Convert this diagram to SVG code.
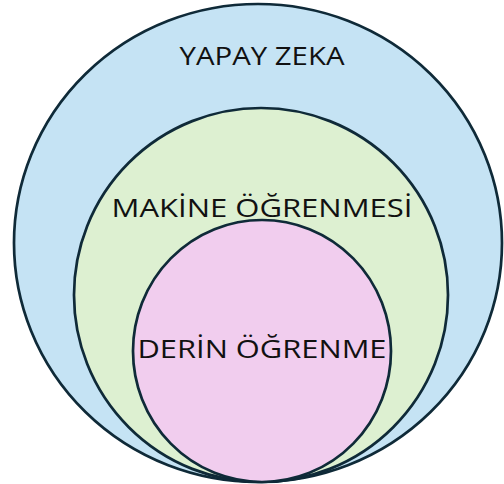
<svg xmlns="http://www.w3.org/2000/svg" width="504" height="484" viewBox="0 0 504 484">
<style>
.c{stroke:#0f2a38;stroke-width:2.7}
.t{font-family:"Open Sans","Noto Sans",sans-serif;font-size:26px;fill:#111;text-anchor:middle}
</style>
<rect width="504" height="484" fill="#fff"/>
<g id="yapay-zeka">
<ellipse class="c" cx="258" cy="243" rx="244" ry="239" fill="#c5e3f4"/>
<text class="t" x="262" y="65" textLength="165" lengthAdjust="spacingAndGlyphs">YAPAY ZEKA</text>
</g>
<g id="makine-ogrenmesi">
<ellipse class="c" cx="261" cy="295" rx="187" ry="187" fill="#ddf0d1"/>
<text class="t" x="262" y="217" textLength="301" lengthAdjust="spacingAndGlyphs">MAKİNE ÖĞRENMESİ</text>
</g>
<g id="derin-ogrenme">
<ellipse class="c" cx="262" cy="351" rx="129" ry="131" fill="#f1cdee"/>
<text class="t" x="262" y="358" textLength="249" lengthAdjust="spacingAndGlyphs">DERİN ÖĞRENME</text>
</g>
<g id="connectors"/>
</svg>
